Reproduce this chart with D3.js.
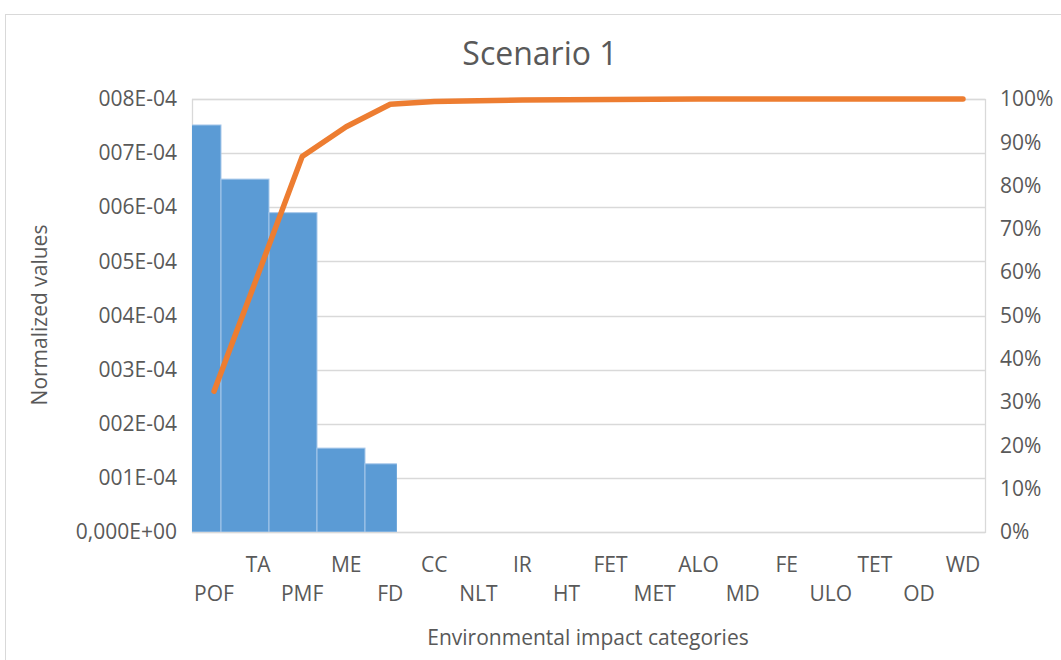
<!DOCTYPE html>
<html>
<head>
<meta charset="utf-8">
<script src="https://cdn.jsdelivr.net/npm/d3@7/dist/d3.min.js"></script>
<style>
  html, body { margin: 0; padding: 0; background: #fff; }
  svg text { font-family: "Open Sans", "Noto Sans", sans-serif; fill: #595959; }
</style>
</head>
<body>
<svg id="chart" width="1061" height="660"></svg>
<script>
// Impact categories in Pareto order
const categories = ["POF","TA","PMF","ME","FD","CC","NLT","IR","HT","FET","MET","ALO","MD","FE","ULO","TET","OD","WD"];
// Normalized values per category
const normalizedValues = [7.52e-4, 6.52e-4, 5.90e-4, 1.55e-4, 1.26e-4, 0.004e-4, 0.003e-4, 0.002e-4, 0.002e-4, 0.001e-4, 0.001e-4, 0.001e-4, 0.0005e-4, 0.0005e-4, 0.0005e-4, 0.0005e-4, 0.0005e-4, 0.0005e-4];
// Cumulative share (%) drawn as the Pareto line
const cumulativeShare = [32.5, 59.5, 86.7, 93.6, 98.8, 99.4, 99.6, 99.75, 99.85, 99.9, 99.95, 100, 100, 100, 100, 100, 100, 100];
// Left axis ticks and their labels
const leftTicks = [0, 1e-4, 2e-4, 3e-4, 4e-4, 5e-4, 6e-4, 7e-4, 8e-4];
const leftTickLabels = ["0,000E+00","001E-04","002E-04","003E-04","004E-04","005E-04","006E-04","007E-04","008E-04"];
// Right axis ticks
const rightTicks = [0,10,20,30,40,50,60,70,80,90,100];

const svg = d3.select("#chart");
const W = 1061, H = 660;
const plot = { left: 192, right: 985, top: 99, bottom: 532 };
const labelSize = "21px";

// Chart frame
svg.append("rect")
  .attr("x", 5.5).attr("y", 14.5).attr("width", W).attr("height", H)
  .attr("fill", "#fff").attr("stroke", "#d9d9d9").attr("stroke-width", 1);

// Scales
const x = d3.scaleBand().domain(categories).range([plot.left, plot.right]).padding(0);
const yLeft = d3.scaleLinear().domain([0, 8e-4]).range([plot.bottom, plot.top]);
const yRight = d3.scaleLinear().domain([0, 100]).range([plot.bottom, plot.top]);
// Column series sits on its own category axis (wider step, shifted left)
const barStep = 48;
const xBar = d3.scaleBand().domain(categories)
  .range([plot.left - 19, plot.left - 19 + barStep * categories.length]).padding(0);

// Gridlines
svg.append("g").selectAll("line").data(leftTicks).join("line")
  .attr("x1", plot.left).attr("x2", plot.right)
  .attr("y1", d => Math.round(yLeft(d)) + 0.5).attr("y2", d => Math.round(yLeft(d)) + 0.5)
  .attr("stroke", "#d9d9d9").attr("stroke-width", 1.3);

// Plot area border
svg.append("rect")
  .attr("x", plot.left + 0.5).attr("y", plot.top + 0.5)
  .attr("width", plot.right - plot.left).attr("height", plot.bottom - plot.top)
  .attr("fill", "none").attr("stroke", "#d9d9d9").attr("stroke-width", 1.3);

// Columns are clipped to the plot's left edge and end part-way into the FD category
const lastColumn = "FD";
svg.append("clipPath").attr("id", "colClip").append("rect")
  .attr("x", plot.left).attr("y", plot.top - 10)
  .attr("width", x(lastColumn) + x.bandwidth() * 0.65 - plot.left)
  .attr("height", plot.bottom - plot.top + 10);

// Columns
svg.append("g").attr("clip-path", "url(#colClip)")
  .selectAll("rect").data(categories).join("rect")
  .attr("x", d => xBar(d))
  .attr("width", xBar.bandwidth())
  .attr("y", (d, i) => yLeft(normalizedValues[i]))
  .attr("height", (d, i) => yLeft(0) - yLeft(normalizedValues[i]))
  .attr("fill", "#5b9bd5")
  .attr("stroke", "#a8c8ea").attr("stroke-width", (d, i) => normalizedValues[i] > 1e-5 ? 1 : 0);

// Pareto line
const line = d3.line()
  .x((d, i) => x(categories[i]) + x.bandwidth() / 2)
  .y(d => yRight(d));
svg.append("path").datum(cumulativeShare)
  .attr("d", line)
  .attr("fill", "none").attr("stroke", "#ed7d31")
  .attr("stroke-width", 5.5).attr("stroke-linecap", "round").attr("stroke-linejoin", "round");

// Left axis labels
const leftAxis = d3.axisLeft(yLeft).tickValues(leftTicks)
  .tickFormat((d, i) => leftTickLabels[i]).tickSize(0).tickPadding(15);
const gL = svg.append("g").attr("transform", `translate(${plot.left},0)`).call(leftAxis);
gL.select(".domain").remove();
gL.selectAll("text").style("font-size", labelSize).style("font-family", "'Open Sans'").attr("fill", "#595959");

// Right axis labels
const rightAxis = d3.axisRight(yRight).tickValues(rightTicks)
  .tickFormat(d => d + "%").tickSize(0).tickPadding(15);
const gR = svg.append("g").attr("transform", `translate(${plot.right},0)`).call(rightAxis);
gR.select(".domain").remove();
gR.selectAll("text").style("font-size", labelSize).style("font-family", "'Open Sans'").attr("fill", "#595959");

// Category labels, staggered on two rows
svg.append("g").selectAll("text").data(categories).join("text")
  .attr("x", d => x(d) + x.bandwidth() / 2)
  .attr("y", (d, i) => i % 2 === 0 ? 601 : 572)
  .attr("text-anchor", "middle")
  .style("font-size", labelSize)
  .text(d => d);

// Title
svg.append("text")
  .attr("x", 540).attr("y", 65)
  .attr("text-anchor", "middle")
  .style("font-size", "32px")
  .text("Scenario 1");

// Axis titles
svg.append("text")
  .attr("transform", "translate(47,315) rotate(-90)")
  .attr("text-anchor", "middle")
  .style("font-size", labelSize)
  .text("Normalized values");
svg.append("text")
  .attr("x", 588).attr("y", 645)
  .attr("text-anchor", "middle")
  .style("font-size", labelSize)
  .text("Environmental impact categories");
</script>
</body>
</html>
